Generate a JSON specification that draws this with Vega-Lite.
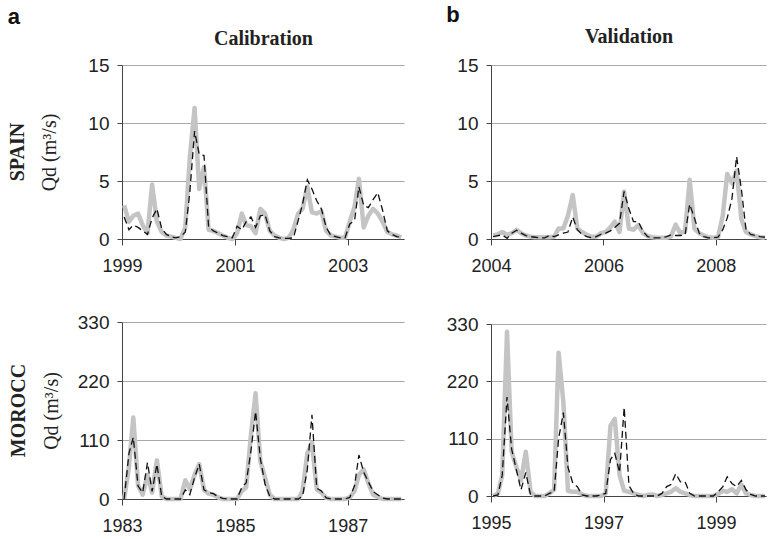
{
"$schema": "https://vega.github.io/schema/vega-lite/v6.json",
"padding": {"left": 7, "top": 4, "right": 0, "bottom": 0},
"background": "white",
"config": {
  "view": {"stroke": null},
  "font": "Liberation Sans",
  "axis": {"labelFont": "Liberation Sans", "labelFontSize": 18, "labelColor": "#222", "titleFont": "Liberation Serif", "titleFontWeight": "normal", "titleFontSize": 20, "titleColor": "#222", "domainColor": "#444", "tickColor": "#444", "gridColor": "#a8a8a8", "tickSize": 5},
  "axisX": {"labelFlush": false},
  "axisY": {"labelFontSize": 19},
  "title": {"color": "#222"}
},
"datasets": {
"spainCal": [
{"t":"1999-01-15","obs":2.9,"sim":1.9},{"t":"1999-02-15","obs":1.5,"sim":0.8},{"t":"1999-03-15","obs":2.0,"sim":1.2},{"t":"1999-04-15","obs":2.2,"sim":1.0},{"t":"1999-05-15","obs":1.2,"sim":0.7},{"t":"1999-06-15","obs":0.5,"sim":0.4},{"t":"1999-07-15","obs":4.7,"sim":1.8},{"t":"1999-08-15","obs":1.5,"sim":2.6},{"t":"1999-09-15","obs":0.6,"sim":0.9},{"t":"1999-10-15","obs":0.3,"sim":0.4},{"t":"1999-11-15","obs":0.2,"sim":0.2},{"t":"1999-12-15","obs":0.1,"sim":0.1},
{"t":"2000-01-15","obs":0.0,"sim":0.2},{"t":"2000-02-15","obs":1.0,"sim":0.6},{"t":"2000-03-15","obs":7.0,"sim":4.0},{"t":"2000-04-15","obs":11.3,"sim":9.3},{"t":"2000-05-15","obs":4.3,"sim":7.3},{"t":"2000-06-15","obs":6.2,"sim":7.2},{"t":"2000-07-15","obs":0.8,"sim":1.0},{"t":"2000-08-15","obs":0.7,"sim":0.7},{"t":"2000-09-15","obs":0.5,"sim":0.5},{"t":"2000-10-15","obs":0.3,"sim":0.3},{"t":"2000-11-15","obs":0.1,"sim":0.2},{"t":"2000-12-15","obs":0.0,"sim":0.1},
{"t":"2001-01-15","obs":0.5,"sim":1.1},{"t":"2001-02-15","obs":2.2,"sim":0.8},{"t":"2001-03-15","obs":1.2,"sim":1.5},{"t":"2001-04-15","obs":1.1,"sim":1.9},{"t":"2001-05-15","obs":0.5,"sim":1.0},{"t":"2001-06-15","obs":2.6,"sim":2.0},{"t":"2001-07-15","obs":2.2,"sim":2.1},{"t":"2001-08-15","obs":0.7,"sim":0.7},{"t":"2001-09-15","obs":0.3,"sim":0.2},{"t":"2001-10-15","obs":0.1,"sim":0.1},{"t":"2001-11-15","obs":0.0,"sim":0.05},{"t":"2001-12-15","obs":0.1,"sim":0.05},
{"t":"2002-01-15","obs":0.8,"sim":0.1},{"t":"2002-02-15","obs":2.2,"sim":1.6},{"t":"2002-03-15","obs":2.6,"sim":3.0},{"t":"2002-04-15","obs":4.5,"sim":5.1},{"t":"2002-05-15","obs":2.3,"sim":4.3},{"t":"2002-06-15","obs":2.2,"sim":3.3},{"t":"2002-07-15","obs":2.4,"sim":2.6},{"t":"2002-08-15","obs":0.7,"sim":1.0},{"t":"2002-09-15","obs":0.3,"sim":0.3},{"t":"2002-10-15","obs":0.2,"sim":0.2},{"t":"2002-11-15","obs":0.1,"sim":0.1},{"t":"2002-12-15","obs":0.1,"sim":0.1},
{"t":"2003-01-15","obs":1.5,"sim":1.3},{"t":"2003-02-15","obs":2.8,"sim":1.6},{"t":"2003-03-15","obs":5.2,"sim":4.5},{"t":"2003-04-15","obs":1.0,"sim":2.9},{"t":"2003-05-15","obs":2.0,"sim":2.7},{"t":"2003-06-15","obs":2.6,"sim":3.4},{"t":"2003-07-15","obs":2.2,"sim":4.0},{"t":"2003-08-15","obs":1.5,"sim":2.5},{"t":"2003-09-15","obs":0.6,"sim":0.7},{"t":"2003-10-15","obs":0.4,"sim":0.4},{"t":"2003-11-15","obs":0.3,"sim":0.2},{"t":"2003-12-15","obs":0.15,"sim":0.15}
],
"spainVal": [
{"t":"2004-01-15","obs":0.3,"sim":0.2},{"t":"2004-02-15","obs":0.4,"sim":0.3},{"t":"2004-03-15","obs":0.6,"sim":0.35},{"t":"2004-04-15","obs":0.35,"sim":0.05},{"t":"2004-05-15","obs":0.5,"sim":0.5},{"t":"2004-06-15","obs":0.8,"sim":0.75},{"t":"2004-07-15","obs":0.5,"sim":0.5},{"t":"2004-08-15","obs":0.3,"sim":0.3},{"t":"2004-09-15","obs":0.2,"sim":0.2},{"t":"2004-10-15","obs":0.15,"sim":0.15},{"t":"2004-11-15","obs":0.15,"sim":0.1},{"t":"2004-12-15","obs":0.15,"sim":0.1},
{"t":"2005-01-15","obs":0.15,"sim":0.3},{"t":"2005-02-15","obs":0.2,"sim":0.2},{"t":"2005-03-15","obs":0.9,"sim":0.35},{"t":"2005-04-15","obs":0.9,"sim":0.5},{"t":"2005-05-15","obs":2.0,"sim":0.6},{"t":"2005-06-15","obs":3.8,"sim":1.9},{"t":"2005-07-15","obs":0.9,"sim":0.8},{"t":"2005-08-15","obs":0.6,"sim":0.4},{"t":"2005-09-15","obs":0.35,"sim":0.2},{"t":"2005-10-15","obs":0.2,"sim":0.1},{"t":"2005-11-15","obs":0.2,"sim":0.2},{"t":"2005-12-15","obs":0.5,"sim":0.4},
{"t":"2006-01-15","obs":0.6,"sim":0.5},{"t":"2006-02-15","obs":1.0,"sim":0.7},{"t":"2006-03-15","obs":1.5,"sim":1.0},{"t":"2006-04-15","obs":0.6,"sim":1.35},{"t":"2006-05-15","obs":4.1,"sim":4.1},{"t":"2006-06-15","obs":0.9,"sim":2.6},{"t":"2006-07-15","obs":0.8,"sim":1.5},{"t":"2006-08-15","obs":1.2,"sim":1.5},{"t":"2006-09-15","obs":0.5,"sim":0.65},{"t":"2006-10-15","obs":0.25,"sim":0.2},{"t":"2006-11-15","obs":0.15,"sim":0.1},{"t":"2006-12-15","obs":0.1,"sim":0.1},
{"t":"2007-01-15","obs":0.1,"sim":0.1},{"t":"2007-02-15","obs":0.1,"sim":0.2},{"t":"2007-03-15","obs":0.2,"sim":0.35},{"t":"2007-04-15","obs":1.25,"sim":0.3},{"t":"2007-05-15","obs":0.5,"sim":0.3},{"t":"2007-06-15","obs":0.65,"sim":0.35},{"t":"2007-07-15","obs":5.1,"sim":3.0},{"t":"2007-08-15","obs":0.9,"sim":1.8},{"t":"2007-09-15","obs":0.5,"sim":0.5},{"t":"2007-10-15","obs":0.3,"sim":0.2},{"t":"2007-11-15","obs":0.15,"sim":0.1},{"t":"2007-12-15","obs":0.1,"sim":0.1},
{"t":"2008-01-15","obs":0.15,"sim":0.15},{"t":"2008-02-15","obs":2.0,"sim":0.8},{"t":"2008-03-15","obs":5.6,"sim":1.8},{"t":"2008-04-15","obs":4.8,"sim":3.5},{"t":"2008-05-15","obs":5.9,"sim":7.1},{"t":"2008-06-15","obs":1.7,"sim":4.3},{"t":"2008-07-15","obs":0.6,"sim":0.8},{"t":"2008-08-15","obs":0.4,"sim":0.4},{"t":"2008-09-15","obs":0.25,"sim":0.3},{"t":"2008-10-15","obs":0.15,"sim":0.2},{"t":"2008-11-15","obs":0.1,"sim":0.15}
],
"moroccoCal": [
{"t":"1983-01-15","obs":0,"sim":0},{"t":"1983-02-15","obs":60,"sim":85},{"t":"1983-03-15","obs":152,"sim":115},{"t":"1983-04-15","obs":25,"sim":24},{"t":"1983-05-15","obs":8,"sim":12},{"t":"1983-06-15","obs":45,"sim":68},{"t":"1983-07-15","obs":12,"sim":14},{"t":"1983-08-15","obs":72,"sim":65},{"t":"1983-09-15","obs":5,"sim":5},{"t":"1983-10-15","obs":0,"sim":0},{"t":"1983-11-15","obs":0,"sim":0},{"t":"1983-12-15","obs":0,"sim":0},
{"t":"1984-01-15","obs":0,"sim":0},{"t":"1984-02-15","obs":35,"sim":17},{"t":"1984-03-15","obs":18,"sim":8},{"t":"1984-04-15","obs":45,"sim":40},{"t":"1984-05-15","obs":65,"sim":65},{"t":"1984-06-15","obs":17,"sim":17},{"t":"1984-07-15","obs":10,"sim":12},{"t":"1984-08-15","obs":8,"sim":10},{"t":"1984-09-15","obs":3,"sim":4},{"t":"1984-10-15","obs":0,"sim":1},{"t":"1984-11-15","obs":0,"sim":0},{"t":"1984-12-15","obs":0,"sim":0},
{"t":"1985-01-15","obs":0,"sim":0},{"t":"1985-02-15","obs":15,"sim":22},{"t":"1985-03-15","obs":22,"sim":30},{"t":"1985-04-15","obs":120,"sim":90},{"t":"1985-05-15","obs":197,"sim":163},{"t":"1985-06-15","obs":70,"sim":75},{"t":"1985-07-15","obs":40,"sim":28},{"t":"1985-08-15","obs":8,"sim":5},{"t":"1985-09-15","obs":0,"sim":0},{"t":"1985-10-15","obs":0,"sim":0},{"t":"1985-11-15","obs":0,"sim":0},{"t":"1985-12-15","obs":0,"sim":0},
{"t":"1986-01-15","obs":0,"sim":0},{"t":"1986-02-15","obs":0,"sim":0},{"t":"1986-03-15","obs":15,"sim":5},{"t":"1986-04-15","obs":85,"sim":55},{"t":"1986-05-15","obs":105,"sim":157},{"t":"1986-06-15","obs":18,"sim":20},{"t":"1986-07-15","obs":12,"sim":15},{"t":"1986-08-15","obs":2,"sim":2},{"t":"1986-09-15","obs":0,"sim":0},{"t":"1986-10-15","obs":0,"sim":0},{"t":"1986-11-15","obs":0,"sim":0},{"t":"1986-12-15","obs":0,"sim":0},
{"t":"1987-01-15","obs":3,"sim":3},{"t":"1987-02-15","obs":15,"sim":25},{"t":"1987-03-15","obs":45,"sim":82},{"t":"1987-04-15","obs":55,"sim":50},{"t":"1987-05-15","obs":30,"sim":32},{"t":"1987-06-15","obs":8,"sim":14},{"t":"1987-07-15","obs":4,"sim":8},{"t":"1987-08-15","obs":0,"sim":2},{"t":"1987-09-15","obs":0,"sim":0},{"t":"1987-10-15","obs":0,"sim":0},{"t":"1987-11-15","obs":0,"sim":0},{"t":"1987-12-15","obs":0,"sim":0}
],
"moroccoVal": [
{"t":"1995-01-15","obs":0,"sim":0},{"t":"1995-02-15","obs":5,"sim":2},{"t":"1995-03-15","obs":40,"sim":40},{"t":"1995-04-15","obs":315,"sim":190},{"t":"1995-05-15","obs":85,"sim":90},{"t":"1995-06-15","obs":55,"sim":50},{"t":"1995-07-15","obs":30,"sim":12},{"t":"1995-08-15","obs":85,"sim":45},{"t":"1995-09-15","obs":8,"sim":2},{"t":"1995-10-15","obs":0,"sim":0},{"t":"1995-11-15","obs":0,"sim":0},{"t":"1995-12-15","obs":0,"sim":0},
{"t":"1996-01-15","obs":5,"sim":5},{"t":"1996-02-15","obs":12,"sim":8},{"t":"1996-03-15","obs":275,"sim":110},{"t":"1996-04-15","obs":180,"sim":160},{"t":"1996-05-15","obs":10,"sim":55},{"t":"1996-06-15","obs":8,"sim":25},{"t":"1996-07-15","obs":8,"sim":18},{"t":"1996-08-15","obs":3,"sim":2},{"t":"1996-09-15","obs":0,"sim":0},{"t":"1996-10-15","obs":0,"sim":0},{"t":"1996-11-15","obs":0,"sim":0},{"t":"1996-12-15","obs":0,"sim":2},
{"t":"1997-01-15","obs":5,"sim":5},{"t":"1997-02-15","obs":135,"sim":70},{"t":"1997-03-15","obs":148,"sim":82},{"t":"1997-04-15","obs":40,"sim":45},{"t":"1997-05-15","obs":10,"sim":170},{"t":"1997-06-15","obs":8,"sim":20},{"t":"1997-07-15","obs":5,"sim":5},{"t":"1997-08-15","obs":2,"sim":0},{"t":"1997-09-15","obs":0,"sim":0},{"t":"1997-10-15","obs":2,"sim":0},{"t":"1997-11-15","obs":3,"sim":0},{"t":"1997-12-15","obs":0,"sim":0},
{"t":"1998-01-15","obs":2,"sim":5},{"t":"1998-02-15","obs":5,"sim":18},{"t":"1998-03-15","obs":8,"sim":22},{"t":"1998-04-15","obs":15,"sim":43},{"t":"1998-05-15","obs":8,"sim":27},{"t":"1998-06-15","obs":5,"sim":27},{"t":"1998-07-15","obs":2,"sim":5},{"t":"1998-08-15","obs":0,"sim":0},{"t":"1998-09-15","obs":0,"sim":0},{"t":"1998-10-15","obs":0,"sim":0},{"t":"1998-11-15","obs":0,"sim":0},{"t":"1998-12-15","obs":0,"sim":0},
{"t":"1999-01-15","obs":4,"sim":8},{"t":"1999-02-15","obs":10,"sim":18},{"t":"1999-03-15","obs":8,"sim":37},{"t":"1999-04-15","obs":13,"sim":24},{"t":"1999-05-15","obs":5,"sim":18},{"t":"1999-06-15","obs":22,"sim":30},{"t":"1999-07-15","obs":5,"sim":12},{"t":"1999-08-15","obs":2,"sim":3},{"t":"1999-09-15","obs":0,"sim":0},{"t":"1999-10-15","obs":0,"sim":0},{"t":"1999-11-15","obs":0,"sim":0}
]
},
"hconcat": [
 {
  "title": {"text": "a", "anchor": "start", "frame": "bounds", "font": "Liberation Sans", "fontSize": 22, "fontWeight": "bold", "offset": -1, "color": "#111"},
  "vconcat": [
   {
    "width": 282, "height": 174,
    "data": {"name": "spainCal"},
    "title": {"text": "SPAIN", "orient": "left", "anchor": "middle", "frame": "group", "font": "Liberation Serif", "fontSize": 20, "fontWeight": "bold", "offset": 12},
    "layer": [
     {"mark": {"type": "line", "color": "#c4c4c4", "strokeWidth": 4.5, "strokeJoin": "round"},
      "encoding": {
       "x": {"field": "t", "type": "temporal", "scale": {"domain": [{"year": 1999, "month": 1, "date": 1}, {"year": 2004, "month": 1, "date": 1}]},
             "axis": {"orient": "bottom", "title": null, "values": [{"year": 1999, "month": 1, "date": 1}, {"year": 2001, "month": 1, "date": 1}, {"year": 2003, "month": 1, "date": 1}], "format": "%Y", "grid": false, "tickSize": 6, "labelPadding": 12, "labelFlush": false}},
       "y": {"field": "obs", "type": "quantitative", "scale": {"domain": [0, 15], "nice": false}, "axis": {"title": "Qd (m³/s)", "values": [0, 5, 10, 15], "titlePadding": 28, "labelPadding": 8}}
      }},
     {"mark": {"type": "line", "color": "#111", "strokeWidth": 1.3, "strokeDash": [7, 4]},
      "encoding": {
       "x": {"field": "t", "type": "temporal", "axis": {"orient": "top", "title": "Calibration", "labels": false, "ticks": false, "domain": false, "grid": false, "titleFont": "Liberation Serif", "titleFontWeight": "bold", "titleFontSize": 20, "titlePadding": 17}},
       "y": {"field": "sim", "type": "quantitative", "scale": {"domain": [0, 15], "nice": false}, "axis": {"title": "Qd (m³/s)", "values": [0, 5, 10, 15], "titlePadding": 28, "labelPadding": 8}}
      }}
    ],
    "resolve": {"axis": {"x": "independent"}}
   },
   {
    "width": 282, "height": 177,
    "data": {"name": "moroccoCal"},
    "title": {"text": "MOROCC", "orient": "left", "anchor": "middle", "frame": "group", "font": "Liberation Serif", "fontSize": 20, "fontWeight": "bold", "offset": 12},
    "encoding": {
     "x": {"field": "t", "type": "temporal", "scale": {"domain": [{"year": 1983, "month": 1, "date": 1}, {"year": 1988, "month": 1, "date": 1}]},
           "axis": {"title": null, "values": [{"year": 1983, "month": 1, "date": 1}, {"year": 1985, "month": 1, "date": 1}, {"year": 1987, "month": 1, "date": 1}], "format": "%Y", "grid": false, "tickSize": 6, "labelPadding": 12, "labelFlush": false}}
    },
    "layer": [
     {"mark": {"type": "line", "color": "#c4c4c4", "strokeWidth": 4.5, "strokeJoin": "round"},
      "encoding": {
       "y": {"field": "obs", "type": "quantitative", "scale": {"domain": [0, 330], "nice": false}, "axis": {"title": "Qd (m³/s)", "values": [0, 110, 220, 330], "titlePadding": 16, "labelPadding": 8}}
      }},
     {"mark": {"type": "line", "color": "#111", "strokeWidth": 1.3, "strokeDash": [7, 4]},
      "encoding": {
       "y": {"field": "sim", "type": "quantitative", "scale": {"domain": [0, 330], "nice": false}, "axis": {"title": "Qd (m³/s)", "values": [0, 110, 220, 330], "titlePadding": 16, "labelPadding": 8}}
      }}
    ]
   }
  ],
  "spacing": 38
 },
 {
  "title": {"text": "b", "anchor": "start", "frame": "bounds", "font": "Liberation Sans", "fontSize": 22, "fontWeight": "bold", "offset": -1, "color": "#111"},
  "vconcat": [
   {
    "width": 275, "height": 174,
    "data": {"name": "spainVal"},
    "layer": [
     {"mark": {"type": "line", "color": "#c4c4c4", "strokeWidth": 4.5, "strokeJoin": "round"},
      "encoding": {
       "x": {"field": "t", "type": "temporal", "scale": {"domain": [{"year": 2004, "month": 1, "date": 1}, {"year": 2008, "month": 11, "date": 22}]},
             "axis": {"orient": "bottom", "title": null, "values": [{"year": 2004, "month": 1, "date": 1}, {"year": 2006, "month": 1, "date": 1}, {"year": 2008, "month": 1, "date": 1}], "format": "%Y", "grid": false, "tickSize": 6, "labelPadding": 12, "labelFlush": false}},
       "y": {"field": "obs", "type": "quantitative", "scale": {"domain": [0, 15], "nice": false}, "axis": {"title": null, "values": [0, 5, 10, 15], "labelPadding": 8}}
      }},
     {"mark": {"type": "line", "color": "#111", "strokeWidth": 1.3, "strokeDash": [7, 4]},
      "encoding": {
       "x": {"field": "t", "type": "temporal", "axis": {"orient": "top", "title": "Validation", "labels": false, "ticks": false, "domain": false, "grid": false, "titleFont": "Liberation Serif", "titleFontWeight": "bold", "titleFontSize": 20, "titlePadding": 19}},
       "y": {"field": "sim", "type": "quantitative", "scale": {"domain": [0, 15], "nice": false}, "axis": {"title": null, "values": [0, 5, 10, 15], "labelPadding": 8}}
      }}
    ],
    "resolve": {"axis": {"x": "independent"}}
   },
   {
    "width": 275, "height": 172,
    "data": {"name": "moroccoVal"},
    "encoding": {
     "x": {"field": "t", "type": "temporal", "scale": {"domain": [{"year": 1995, "month": 1, "date": 1}, {"year": 1999, "month": 11, "date": 22}]},
           "axis": {"title": null, "values": [{"year": 1995, "month": 1, "date": 1}, {"year": 1997, "month": 1, "date": 1}, {"year": 1999, "month": 1, "date": 1}], "format": "%Y", "grid": false, "tickSize": 6, "labelPadding": 12, "labelFlush": false}}
    },
    "layer": [
     {"mark": {"type": "line", "color": "#c4c4c4", "strokeWidth": 4.5, "strokeJoin": "round"},
      "encoding": {
       "y": {"field": "obs", "type": "quantitative", "scale": {"domain": [0, 330], "nice": false}, "axis": {"title": null, "values": [0, 110, 220, 330], "labelPadding": 8}}
      }},
     {"mark": {"type": "line", "color": "#111", "strokeWidth": 1.3, "strokeDash": [7, 4]},
      "encoding": {
       "y": {"field": "sim", "type": "quantitative", "scale": {"domain": [0, 330], "nice": false}, "axis": {"title": null, "values": [0, 110, 220, 330], "labelPadding": 8}}
      }}
    ]
   }
  ],
  "spacing": 40
 }
],
"spacing": 42
}
